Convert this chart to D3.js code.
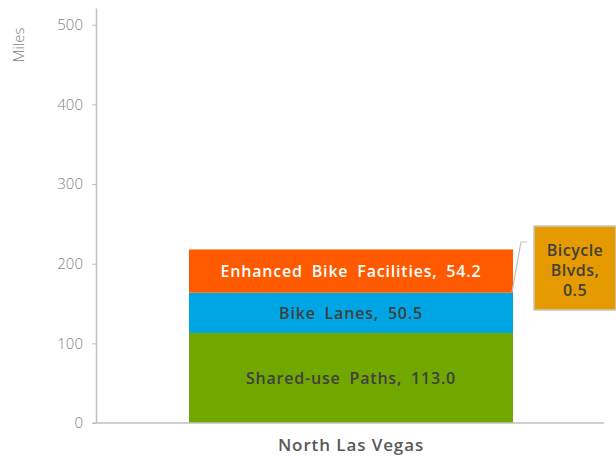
<!DOCTYPE html>
<html>
<head>
<meta charset="utf-8">
<script src="https://cdn.jsdelivr.net/npm/d3@7"></script>
<style>
  body { margin: 0; background: #fff; }
  text { font-family: "Open Sans", Lato, sans-serif; }
</style>
</head>
<body>
<div id="chart"></div>
<script>
var categories = ["North Las Vegas"];
var series = ["Shared-use Paths", "Bike Lanes", "Enhanced Bike Facilities", "Bicycle Blvds"];
var values = [113.0, 50.5, 54.2, 0.5];
var colors = ["#70a800", "#00a6e3", "#ff5a00", "#e59a00"];
var labelColors = ["#404040", "#404040", "#ffffff", "#404040"];
var yTicks = [0, 100, 200, 300, 400, 500];

var W = 616, H = 457;
var plotLeft = 96, plotRight = 606, plotTop = 8, plotBottom = 423;

var svg = d3.select("#chart").append("svg")
    .attr("width", W)
    .attr("height", H);

var x = d3.scaleBand()
    .domain(categories)
    .range([plotLeft, plotRight])
    .paddingInner(0)
    .paddingOuter(0.287);

var y = d3.scaleLinear()
    .domain([0, 521])
    .range([plotBottom, plotTop]);

// y axis
var yAxis = svg.append("g")
    .attr("transform", "translate(" + plotLeft + ",0)")
    .call(d3.axisLeft(y).tickValues(yTicks).tickSize(4).tickPadding(9).tickSizeOuter(0));
yAxis.select(".domain").attr("stroke", "#bfbfbf").attr("stroke-width", 1.5);
yAxis.selectAll(".tick line").attr("stroke", "#bfbfbf");
yAxis.selectAll(".tick text")
    .attr("fill", "#7f7f7f")
    .attr("font-size", "15px")
    .style("font-weight", 300)
    .style("font-family", "\"Open Sans\", sans-serif");

svg.append("text")
    .attr("transform", "translate(24,45) rotate(-90)")
    .attr("text-anchor", "middle")
    .attr("fill", "#7f7f7f")
    .attr("font-size", "15px")
    .style("font-weight", 300)
    .text("Miles");

// stacked bar
var stackRows = [{cat: categories[0]}];
series.forEach(function(s, i) { stackRows[0][s] = values[i]; });
var stacked = d3.stack().keys(series)(stackRows);

svg.selectAll("rect.seg")
  .data(stacked)
  .enter()
  .append("rect")
    .attr("class", "seg")
    .attr("x", function(d) { return x(d[0].data.cat); })
    .attr("width", x.bandwidth())
    .attr("y", function(d) { return y(d[0][1]); })
    .attr("height", function(d) { return y(d[0][0]) - y(d[0][1]); })
    .attr("fill", function(d, i) { return colors[i]; });

// labels inside the bigger segments
svg.selectAll("text.seglabel")
  .data(stacked.slice(0, 3))
  .enter()
  .append("text")
    .attr("class", "seglabel")
    .attr("x", function(d) { return x(d[0].data.cat) + x.bandwidth() / 2; })
    .attr("y", function(d) { return (y(d[0][0]) + y(d[0][1])) / 2; })
    .attr("dy", "0.36em")
    .attr("text-anchor", "middle")
    .attr("font-size", "16px")
    .attr("font-weight", 600)
    .style("letter-spacing", "0.8px")
    .style("word-spacing", "4px")
    .attr("fill", function(d, i) { return labelColors[i]; })
    .text(function(d, i) { return series[i] + ", " + values[i].toFixed(1); });

// x baseline
svg.append("line")
    .attr("x1", plotLeft - 3).attr("x2", 604)
    .attr("y1", y(0)).attr("y2", y(0))
    .attr("stroke", "#bfbfbf")
    .attr("stroke-width", 1.5);

svg.append("text")
    .attr("x", x(categories[0]) + x.bandwidth() / 2)
    .attr("y", 451)
    .attr("text-anchor", "middle")
    .attr("fill", "#595959")
    .attr("font-size", "17px")
    .attr("font-weight", 600)
    .style("letter-spacing", "0.9px")
    .text(categories[0]);

// callout for the tiny Bicycle Blvds segment
var barRight = x(categories[0]) + x.bandwidth();
var box = {x: 534, y: 226, w: 82, h: 84};
svg.append("polyline")
    .attr("points", [[barRight - 1, 292], [521, 242], [527, 242]].map(function(p) { return p.join(","); }).join(" "))
    .attr("fill", "none")
    .attr("stroke", "#bfbfbf")
    .attr("stroke-width", 1.2);
svg.append("rect")
    .attr("x", box.x).attr("y", box.y)
    .attr("width", box.w).attr("height", box.h)
    .attr("fill", colors[3])
    .attr("stroke", "#c8c8c8")
    .attr("stroke-width", 1.5);
var calloutLines = ["Bicycle", "Blvds,", values[3].toFixed(1)];
svg.append("text")
    .attr("text-anchor", "middle")
    .attr("font-size", "16px")
    .attr("font-weight", 600)
    .style("letter-spacing", "0.5px")
    .attr("fill", "#404040")
  .selectAll("tspan")
  .data(calloutLines)
  .enter()
  .append("tspan")
    .attr("x", box.x + box.w / 2)
    .attr("y", function(d, i) { return 256 + i * 20; })
    .text(function(d) { return d; });
</script>
</body>
</html>
